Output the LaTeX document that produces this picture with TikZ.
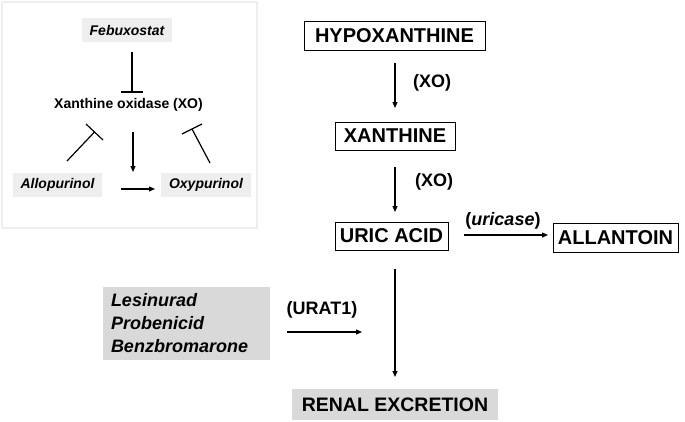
\documentclass[tikz,border=0pt]{standalone}
\usepackage{fontspec}
\setmainfont{Liberation Sans}
\usetikzlibrary{arrows.meta,calc}
\definecolor{lightpanel}{HTML}{EEEEEE}
\definecolor{midgray}{HTML}{D9D9D9}
\begin{document}
\begin{tikzpicture}[x=1pt,y=-1pt,
  every node/.style={inner sep=0pt, outer sep=0pt, font=\bfseries},
  bigbox/.style={draw=black, line width=1pt, minimum height=29pt, font=\fontsize{20}{24}\selectfont\bfseries},
  graybox/.style={fill=midgray, font=\fontsize{19.5}{24}\selectfont\bfseries},
  drugbox/.style={fill=lightpanel, minimum width=90pt, minimum height=24pt, font=\fontsize{14}{17}\selectfont\bfseries\itshape},
  lbl/.style={font=\fontsize{18}{22}\selectfont\bfseries},
  arr/.style={line width=1.2pt, -{Triangle[length=6pt,width=5pt]}},
  inh/.style={line width=1.2pt}
]
\useasboundingbox (0,0) rectangle (685,421);
% left panel
\draw[lightpanel, line width=2pt] (2,2) rectangle (257,228);
\node[drugbox] (febu) at (127,30) {Febuxostat};
\node[font=\fontsize{14}{17}\selectfont\bfseries] (xo) at (128.5,105) {Xanthine oxidase (XO)};
\node[drugbox, minimum width=89pt] (allo) at (57.5,184.5) {Allopurinol};
\node[drugbox] (oxy) at (206,184.5) {Oxypurinol};
% inhibition from febuxostat
\coordinate (fbar) at (132,92);
\draw[inh] (febu.south -| fbar) ++(0,10) -- (fbar);
\draw[inh] ($(fbar)+(-11,0)$) -- ($(fbar)+(11,0)$);
% XO -> down arrow
\coordinate (xoarrs) at (133,132);
\coordinate (xoarre) at (133,172);
\draw[arr] (xoarrs) -- (xoarre);
% allopurinol -> oxypurinol
\draw[arr] (allo.east |- 0,189) ++(19,0) -- ++(34,0);
% allopurinol inhibitor
\coordinate (abase) at (67,161);
\coordinate (atip) at (94.5,132);
\draw[inh] (abase) -- (atip);
\draw[inh] (86,124) -- (103,140);
% oxypurinol inhibitor
\coordinate (obase) at (210,163);
\coordinate (otip) at (192,129);
\draw[inh] (obase) -- (otip);
\draw[inh] (182,134) -- (202,124);

% right pathway
\node[bigbox, minimum width=181pt] (hypo) at (394.5,36) {HYPOXANTHINE};
\node[bigbox, minimum width=120pt, minimum height=28pt] (xan) at (395,136) {XANTHINE};
\node[bigbox, minimum width=113pt, minimum height=28pt] (uric) at (391.5,236) {URIC ACID};
\node[bigbox, minimum width=125pt] (allan) at (615.5,237.5) {ALLANTOIN};
\node[graybox, minimum width=206pt, minimum height=31pt] (renal) at (395,404.5) {RENAL EXCRETION};
\node[fill=midgray, minimum width=167pt, minimum height=73pt, text width=151pt, inner xsep=8pt, align=left,
  font=\fontsize{18}{23}\selectfont\bfseries\itshape] (les) at (186.5,323.5) {Lesinurad\\Probenicid\\Benzbromarone};

\draw[arr, shorten <=12pt, shorten >=14pt] (hypo.south -| xan.north) -- (xan.north);
\node[lbl] (xo1) at (432,83) {(XO)};
\draw[arr, shorten <=17pt, shorten >=10pt] (xan.south) -- (xan.south |- uric.north);
\node[lbl] (xo2) at (434,182) {(XO)};
\draw[arr, shorten <=16pt, shorten >=5pt] (uric.east |- 0,235) -- (allan.west |- 0,235);
\node[lbl] (uricase) at (503,221) {(\textit{uricase})};
\draw[arr, shorten <=19pt, shorten >=12pt] (renal.north |- uric.south) -- (renal.north);
\coordinate (uratend) at (362,332);
\draw[arr, shorten <=17pt] (les.east |- uratend) -- (uratend);
\node[lbl] (urat) at (322,310) {(URAT1)};
\end{tikzpicture}
\end{document}
